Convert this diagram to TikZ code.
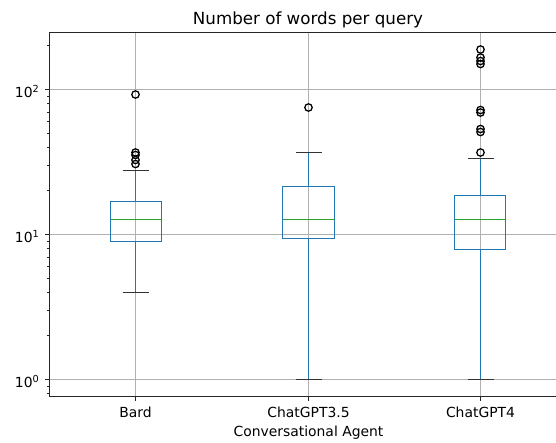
\documentclass[tikz,border=0pt]{standalone}
\usepackage{fontspec}
\setmainfont{DejaVu Sans}
\definecolor{boxblue}{RGB}{31,119,180}
\definecolor{medgreen}{RGB}{44,160,44}
\definecolor{gridgray}{RGB}{176,176,176}
\begin{document}
\begin{tikzpicture}[x=1bp,y=-1bp,
  declare function={ly(\v)=379.5-145*log10(\v);},
  gridline/.style={draw=gridgray,line width=1.1bp},
  boxst/.style={draw=boxblue,line width=1.4bp},
  whiskst/.style={draw=boxblue,line width=1.4bp},
  capline/.style={draw=black!80,line width=1.4bp},
  medline/.style={draw=medgreen,line width=1.4bp},
  flier/.style={draw=black,line width=1.3bp},
  spine/.style={draw=black!85,line width=1.1bp,line cap=rect},
  majtick/.style={draw=black!85,line width=1.1bp},
  mintick/.style={draw=black!85,line width=0.8bp},
  ticklab/.style={inner sep=0pt,font=\fontsize{13.9bp}{16bp}\selectfont},
  titlest/.style={inner sep=0pt,font=\fontsize{16.7bp}{19bp}\selectfont}]
\useasboundingbox (0,0) rectangle (556,443);
% grid
\draw[gridline] (135.5,32.5) -- (135.5,396.5);
\draw[gridline] (308.5,32.5) -- (308.5,396.5);
\draw[gridline] (480.5,32.5) -- (480.5,396.5);
\draw[gridline] (49.5,{ly(1)}) -- (556,{ly(1)});
\draw[gridline] (49.5,{ly(10)}) -- (556,{ly(10)});
\draw[gridline] (49.5,{ly(100)}) -- (556,{ly(100)});
% Bard
\draw[whiskst] (135.5,201.5) -- (135.5,170.5);
\draw[whiskst] (135.5,241.5) -- (135.5,292.5);
\draw[capline] (122.5,170.5) -- (148.5,170.5);
\draw[capline] (122.5,292.5) -- (148.5,292.5);
\draw[boxst] (110.5,201.5) rectangle (161.5,241.5);
\draw[medline] (110.5,219.5) -- (161.5,219.5);
% ChatGPT3.5
\draw[whiskst] (308.5,186.5) -- (308.5,152.5);
\draw[whiskst] (308.5,238.5) -- (308.5,379.5);
\draw[capline] (295.5,152.5) -- (321.5,152.5);
\draw[capline] (295.5,379.5) -- (321.5,379.5);
\draw[boxst] (282.5,186.5) rectangle (334.5,238.5);
\draw[medline] (282.5,219.5) -- (334.5,219.5);
% ChatGPT4
\draw[whiskst] (480.5,195.5) -- (480.5,158.5);
\draw[whiskst] (480.5,249.5) -- (480.5,379.5);
\draw[capline] (467.5,158.5) -- (493.5,158.5);
\draw[capline] (467.5,379.5) -- (493.5,379.5);
\draw[boxst] (454.5,195.5) rectangle (505.5,249.5);
\draw[medline] (454.5,219.5) -- (505.5,219.5);
% fliers
\foreach \yy in {94.5,152.5,155,160,164} \draw[flier] (135.5,\yy) circle[radius=3.7];
\draw[flier] (308.5,107.5) circle[radius=3.7];
\foreach \yy in {49.5,57.5,61,64,110,112.5,129,132,152.5} \draw[flier] (480.5,\yy) circle[radius=3.7];
% spines
\draw[spine] (556,32.5) -- (49.5,32.5) -- (49.5,396.5) -- (556,396.5);
% y ticks
\foreach \v in {1,10,100} \draw[majtick] (49.5,{ly(\v)}) -- (44.6,{ly(\v)});
\foreach \v in {0.8,0.9,2,3,4,5,6,7,8,9,20,30,40,50,60,70,80,90,200}
  \draw[mintick] (49.5,{ly(\v)}) -- (46.7,{ly(\v)});
% x ticks
\draw[majtick] (135.5,396.5) -- (135.5,401.4);
\draw[majtick] (308.5,396.5) -- (308.5,401.4);
\draw[majtick] (480.5,396.5) -- (480.5,401.4);
% tick labels
\node[ticklab,anchor=base east] (y2) at (39,{ly(100)+7.5}) {10\raisebox{5bp}{\fontsize{9.7bp}{10bp}\selectfont 2}};
\node[ticklab,anchor=base east] (y1) at (39,{ly(10)+7.5}) {10\raisebox{5bp}{\fontsize{9.7bp}{10bp}\selectfont 1}};
\node[ticklab,anchor=base east] (y0) at (39,{ly(1)+7.5}) {10\raisebox{5bp}{\fontsize{9.7bp}{10bp}\selectfont 0}};
\node[ticklab,anchor=base] (xbard) at (135.5,417.7) {Bard};
\node[ticklab,anchor=base] (xgpt35) at (308.5,417.7) {ChatGPT3.5};
\node[ticklab,anchor=base] (xgpt4) at (480.5,417.7) {ChatGPT4};
\node[ticklab,anchor=base] (xlabel) at (308.5,436.5) {Conversational Agent};
\node[titlest,anchor=base] (title) at (308,25) {Number of words per query};
\end{tikzpicture}
\end{document}
